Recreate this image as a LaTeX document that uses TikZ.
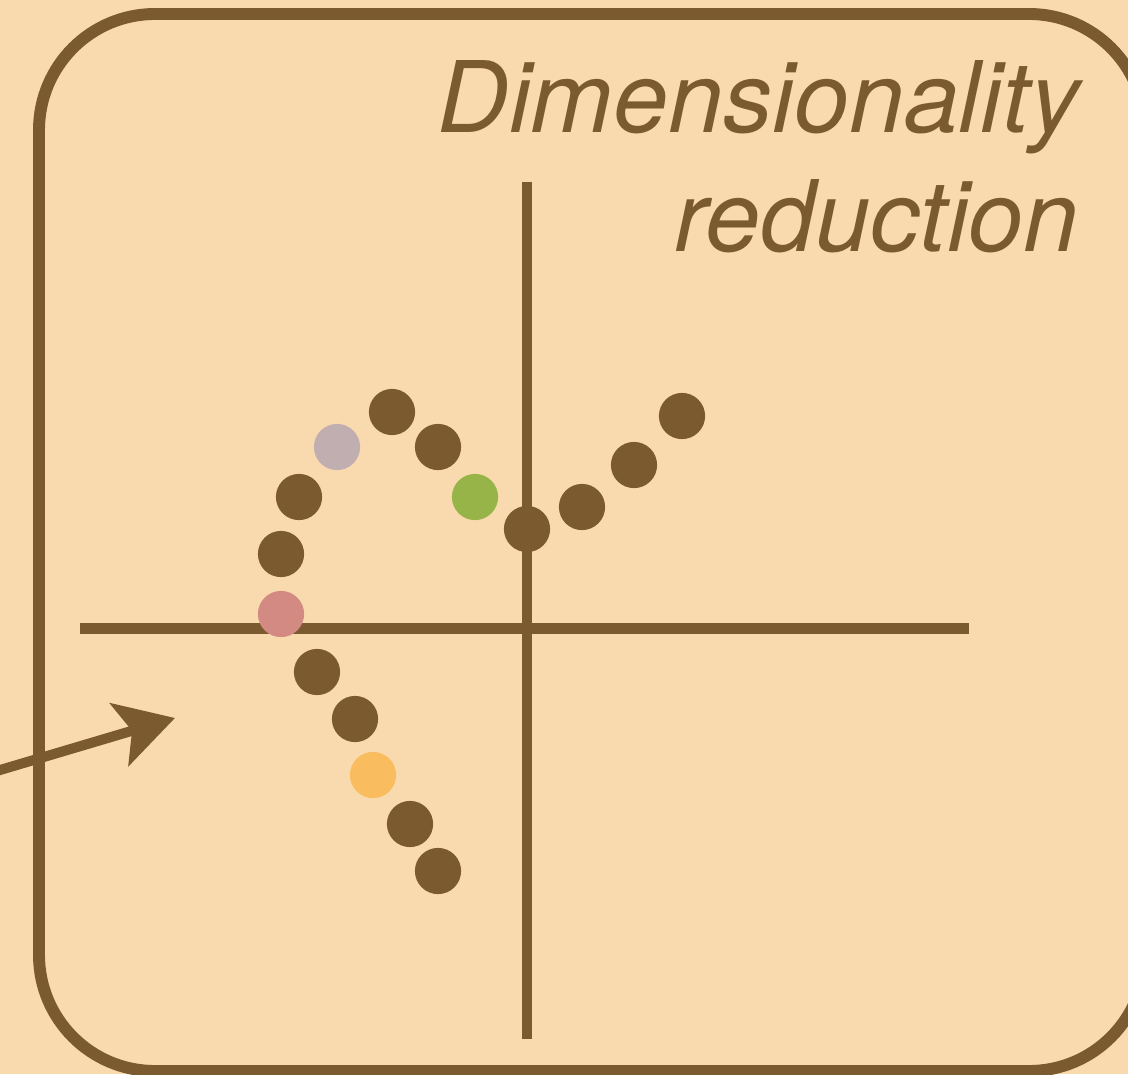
\documentclass[tikz,border=0pt]{standalone}
\usepackage{fontspec}
\setsansfont{TeX Gyre Heros}
\usepackage{tikz}
\usetikzlibrary{arrows.meta,positioning}
\definecolor{paper}{RGB}{249,218,174}
\definecolor{ink}{RGB}{122,90,46}
\definecolor{lilac}{RGB}{192,174,176}
\definecolor{leaf}{RGB}{150,180,72}
\definecolor{rose}{RGB}{210,138,130}
\definecolor{amber}{RGB}{249,188,94}
\tikzset{
  frame/.style={draw=ink, line width=6.8pt, rounded corners=66pt},
  axis/.style={draw=ink, line width=5.7pt},
  pt/.style={circle, fill=#1, inner sep=0pt, minimum size=26.3pt},
  pt/.default=ink,
  flow/.style={-{Stealth[length=33pt, width=37pt, inset=7.5pt]}, draw=ink, fill=ink, line width=5.7pt},
  title/.style={font=\sffamily\itshape\fontsize{56.2pt}{66pt}\selectfont, text=ink, inner sep=0pt, anchor=base east},
}

\begin{document}
\begin{tikzpicture}[x=0.02cm, y=-0.02cm]
  \useasboundingbox (0,0) rectangle (1128,1074);
  \fill[paper] (0,0) rectangle (1128,1074);
  \begin{scope}
    \clip (0,0) rectangle (1128,1074);
    \draw[frame] (39,14) rectangle (1145,1071);
  \end{scope}
  \node[title] (t1) at (1080,133) {Dimensionality};
  \node[title] (t2) at (1079,252) {reduction};
  % axes
  \coordinate (yt) at (527,182);
  \coordinate (yb) at (527,1039);
  \coordinate (xl) at (80,628.5);
  \coordinate (xr) at (969,628.5);
  \draw[axis] (yt) -- (yb);
  \draw[axis] (xl) -- (xr);
  % embedded points
  \node[pt] (p1) at (438,871) {};
  \node[pt] (p2) at (410,824) {};
  \node[pt=amber] (p3) at (373,775) {};
  \node[pt] (p4) at (355,719) {};
  \node[pt] (p5) at (317,672) {};
  \node[pt=rose] (p6) at (281,614) {};
  \node[pt] (p7) at (281,554) {};
  \node[pt] (p8) at (299,497) {};
  \node[pt=lilac] (p9) at (337,447) {};
  \node[pt] (p10) at (392,412) {};
  \node[pt] (p11) at (438,447) {};
  \node[pt=leaf] (p12) at (475,497) {};
  \node[pt] (p13) at (527,529) {};
  \node[pt] (p14) at (582,507) {};
  \node[pt] (p15) at (634,465) {};
  \node[pt] (p16) at (682,416) {};
  % incoming arrow
  \coordinate (src) at (-10,773);
  \coordinate (dst) at (175,718);
  \draw[flow] (src) -- (dst);
\end{tikzpicture}
\end{document}
